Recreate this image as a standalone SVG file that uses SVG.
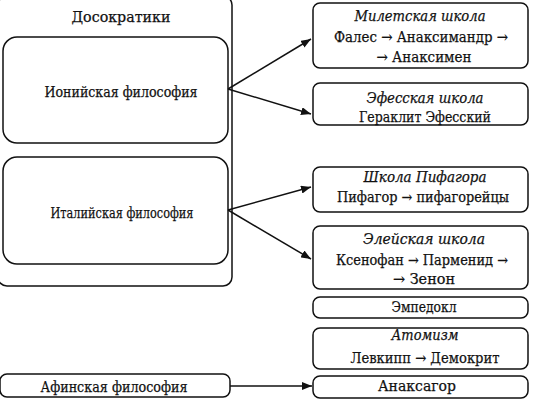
<svg xmlns="http://www.w3.org/2000/svg" width="534" height="402" viewBox="0 0 534 402">
<defs>
<style>
.b{fill:none;stroke:#111;stroke-width:1.5}
.t{font-family:"DejaVu Serif","Liberation Serif",serif;font-size:15px;fill:#111;stroke:#111;stroke-width:0.25;text-anchor:middle}
.s{font-size:14px}
.i{font-style:italic}
.c{stroke:#111;stroke-width:1.5;fill:none}
</style>
<marker id="ah" viewBox="0 0 10 8" refX="10" refY="4" markerWidth="10" markerHeight="8" markerUnits="userSpaceOnUse" orient="auto">
<path d="M0,0 L10,4 L0,8 z" fill="#111"/>
</marker>
</defs>
<rect width="534" height="402" fill="#fff"/>
<g id="presocratics">
<rect class="b" x="-2" y="-4" width="234" height="290" rx="9"/>
<text class="t" x="121" y="22" textLength="99" lengthAdjust="spacingAndGlyphs">Досократики</text>
</g>
<g id="ionian">
<rect class="b" x="3" y="37" width="225" height="106" rx="14"/>
<text class="t" x="121" y="97" textLength="153" lengthAdjust="spacingAndGlyphs">Ионийская философия</text>
</g>
<g id="italian">
<rect class="b" x="3" y="157" width="225" height="107" rx="14"/>
<text class="t" x="122" y="218" textLength="143" lengthAdjust="spacingAndGlyphs">Италийская философия</text>
</g>
<g id="athenian">
<rect class="b" x="0" y="374" width="230" height="23" rx="7"/>
<text class="t" x="114" y="392" textLength="147" lengthAdjust="spacingAndGlyphs">Афинская философия</text>
</g>
<g id="miletus">
<rect class="b" x="313" y="3" width="215" height="65" rx="7"/>
<text class="t i" x="420" y="21" textLength="131" lengthAdjust="spacingAndGlyphs">Милетская школа</text>
<text class="t" x="421" y="42" textLength="174" lengthAdjust="spacingAndGlyphs">Фалес → Анаксимандр →</text>
<text class="t" x="424" y="62" textLength="95" lengthAdjust="spacingAndGlyphs">→ Анаксимен</text>
</g>
<g id="ephesus">
<rect class="b" x="313" y="83" width="215" height="42" rx="7"/>
<text class="t i" x="425" y="103" textLength="117" lengthAdjust="spacingAndGlyphs">Эфесская школа</text>
<text class="t" x="425" y="122" textLength="132" lengthAdjust="spacingAndGlyphs">Гераклит Эфесский</text>
</g>
<g id="pythagoras">
<rect class="b" x="313" y="167" width="215" height="45" rx="7"/>
<text class="t i" x="425" y="182" textLength="123" lengthAdjust="spacingAndGlyphs">Школа Пифагора</text>
<text class="t s" x="423" y="202" textLength="172" lengthAdjust="spacingAndGlyphs">Пифагор → пифагорейцы</text>
</g>
<g id="elea">
<rect class="b" x="313" y="226" width="215" height="63" rx="7"/>
<text class="t i" x="424" y="244" textLength="122" lengthAdjust="spacingAndGlyphs">Элейская школа</text>
<text class="t s" x="422" y="265" textLength="172" lengthAdjust="spacingAndGlyphs">Ксенофан → Парменид →</text>
<text class="t" x="424" y="284" textLength="62" lengthAdjust="spacingAndGlyphs">→ Зенон</text>
</g>
<g id="empedocles">
<rect class="b" x="313" y="297" width="215" height="21" rx="7"/>
<text class="t" x="424" y="312" textLength="65" lengthAdjust="spacingAndGlyphs">Эмпедокл</text>
</g>
<g id="atomism">
<rect class="b" x="313" y="328" width="215" height="41" rx="7"/>
<text class="t i" x="425" y="340" textLength="67" lengthAdjust="spacingAndGlyphs">Атомизм</text>
<text class="t" x="425" y="363" textLength="149" lengthAdjust="spacingAndGlyphs">Левкипп → Демокрит</text>
</g>
<g id="anaxagoras">
<rect class="b" x="313" y="376" width="215" height="22" rx="7"/>
<text class="t" x="417" y="391" textLength="78" lengthAdjust="spacingAndGlyphs">Анаксагор</text>
</g>
<g id="connectors">
<line class="c" x1="228" y1="89" x2="311" y2="39" marker-end="url(#ah)"/>
<line class="c" x1="228" y1="89" x2="311" y2="114" marker-end="url(#ah)"/>
<line class="c" x1="228" y1="210" x2="311" y2="187" marker-end="url(#ah)"/>
<line class="c" x1="228" y1="210" x2="311" y2="259" marker-end="url(#ah)"/>
<line class="c" x1="230" y1="386" x2="312" y2="386" marker-end="url(#ah)"/>
</g>
</svg>
